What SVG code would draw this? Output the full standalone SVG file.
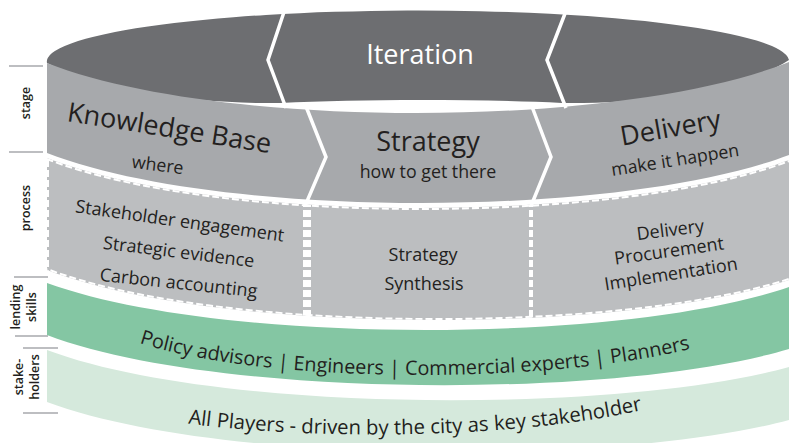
<svg xmlns="http://www.w3.org/2000/svg" width="789" height="443" viewBox="0 0 789 443">
<style>
text{font-family:"Open Sans","Noto Sans","DejaVu Sans",sans-serif;fill:#231f20}
.lbl{font-size:12.5px;font-weight:600;text-anchor:middle;dominant-baseline:central}
.big{font-size:27px;text-anchor:middle}
.sub{font-size:17.8px;text-anchor:middle}
.proc{font-size:18px;text-anchor:middle}
.band{font-size:19.8px;text-anchor:middle}
.sep{stroke:#a7a9ac;stroke-width:1.6}
.chev{fill:none;stroke:#fff;stroke-width:3.5;stroke-linejoin:miter}
.dash{fill:none;stroke:#fff;stroke-width:4;stroke-dasharray:7 3}
</style>
<defs>
<path id="processShape" d="M47,158 C217,224.3 619,224.3 789,160 L789,280 C619,335 217,335 47,270 Z"/>
<clipPath id="procClip"><use href="#processShape"/></clipPath>
<path id="skillsPath" d="M125,338 C250,386 560,386 705,345"/>
<path id="stakePath" d="M170,421 C300,441 520,441 660,406"/>
</defs>
<rect width="789" height="443" fill="#fff"/>

<g id="row-labels">
<line class="sep" x1="9" y1="66" x2="43" y2="66"/>
<line class="sep" x1="9" y1="152" x2="43" y2="152"/>
<line class="sep" x1="14" y1="277" x2="48" y2="277"/>
<line class="sep" x1="15" y1="336" x2="48" y2="336"/>
<line class="sep" x1="23" y1="348" x2="58" y2="348"/>
<line class="sep" x1="23" y1="413" x2="58" y2="413"/>
<text class="lbl" transform="translate(25,103) rotate(-90)">stage</text>
<text class="lbl" transform="translate(25,208) rotate(-90)">process</text>
<text class="lbl" transform="translate(15,307) rotate(-90)">lending</text>
<text class="lbl" transform="translate(31,307) rotate(-90)">skills</text>
<text class="lbl" transform="translate(18,377) rotate(-90)">stake-</text>
<text class="lbl" transform="translate(34,377) rotate(-90)">holders</text>
</g>

<g id="iteration">
<path d="M47,63 A371,51 0 0 1 789,60 C740,92 640,104 562,103 C480,99 360,99 280,103 C200,104 100,92 47,63 Z" fill="#6d6e71"/>
<text x="420" y="64" class="big" style="fill:#fff">Iteration</text>
</g>

<g id="stage-band">
<path d="M47,63 C217,129.8 619,129.8 789,62 L789,155 C619,219.3 217,219.3 47,153 Z" fill="#a7a9ac"/>
</g>

<g id="process-band">
<use href="#processShape" fill="#bcbec0"/>
<g clip-path="url(#procClip)">
<path class="dash" d="M47,158 C217,224.3 619,224.3 789,160"/>
<path class="dash" d="M789,280 C619,335 217,335 47,270"/>
<path class="dash" d="M47,150 L47,280"/>
<path class="dash" d="M305,190 L305,330"/>
<path class="dash" d="M309,190 L309,330"/>
<path class="dash" d="M531,190 L531,330"/>
</g>
</g>

<g id="skills-band">
<path d="M47,283 C217,345 619,345 789,287 L789,349 C619,399.3 217,399.3 47,335 Z" fill="#84c6a3"/>
<text class="band"><textPath href="#skillsPath" startOffset="50%">Policy advisors | Engineers | Commercial experts | Planners</textPath></text>
</g>

<g id="stakeholders-band">
<path d="M47,350 C217,413.8 619,413.8 789,367 L789,420 C619,465.7 217,465.7 47,402 Z" fill="#d5e9dc"/>
<text class="band" style="font-size:20.3px"><textPath href="#stakePath" startOffset="50%">All Players - driven by the city as key stakeholder</textPath></text>
</g>

<g id="connectors">
<path class="chev" d="M285,9 L268,60 L286,108"/>
<path class="chev" d="M566,11 L547,60 L566,108"/>
<path class="chev" d="M305,104 L326,157 L305,206"/>
<path class="chev" d="M531,104 L551,157 L531,206"/>
</g>

<g id="knowledge-base">
<text class="big" transform="translate(168,137) rotate(9)">Knowledge Base</text>
<text class="sub" transform="translate(157,171) rotate(7)">where</text>
</g>
<g id="strategy">
<text class="big" x="428" y="151">Strategy</text>
<text class="sub" x="428" y="178">how to get there</text>
</g>
<g id="delivery">
<text class="big" transform="translate(672,137) rotate(-10)">Delivery</text>
<text class="sub" transform="translate(676,166) rotate(-9)">make it happen</text>
</g>

<g id="process-knowledge">
<text class="proc" transform="translate(179,227) rotate(8)">Stakeholder engagement</text>
<text class="proc" transform="translate(178,258) rotate(7)">Strategic evidence</text>
<text class="proc" transform="translate(178,289) rotate(6)">Carbon accounting</text>
</g>
<g id="process-strategy">
<text class="proc" x="423" y="261">Strategy</text>
<text class="proc" x="424" y="290">Synthesis</text>
</g>
<g id="process-delivery">
<text class="proc" transform="translate(671,236) rotate(-7)">Delivery</text>
<text class="proc" transform="translate(670,257) rotate(-8)">Procurement</text>
<text class="proc" transform="translate(672,280) rotate(-9)">Implementation</text>
</g>
</svg>
